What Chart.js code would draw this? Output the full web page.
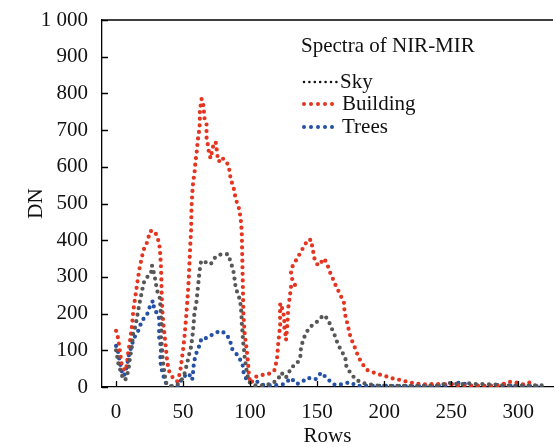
<!DOCTYPE html>
<html>
<head>
<meta charset="utf-8">
<script src="https://cdn.jsdelivr.net/npm/chart.js@4/dist/chart.umd.min.js"></script>
<style>
  html, body { margin: 0; padding: 0; background: #fff; }
  #wrap { width: 555px; height: 447px; }
</style>
</head>
<body>
<div id="wrap"><canvas id="chart"></canvas></div>
<script>
// values (rows -> DN)
const skyRows = [0,1,1.7,3.5,5.5,7.5,9.2,10,11,12,12.5,14.3,15.5,16.7,18,19.3,20.5,23,26,26.8,28,29.3,30.5,32.5,33,33.5,34,33.5,34,34.5,34.8,35.8,36.5,37.5,40,44,47,50.5,53,54.2,56,56.8,57.5,58,58.5,59.8,60.5,61.3,61.7,62.5,63.5,65.5,66.8,70.5,74.3,78.5,83.5,85.5,87.5,88.5,89.3,91.7,93,93.5,93.8,94.3,94.8,95.5,96,96.8,97.5,98.5,100,105,110.5,115.5,120.5,123.5,126,128,130.5,135,137.5,138,139.8,141.8,145,150,154.8,158,160.5,163,165.5,168,171,171.8,175,179.3,185,195,210,225,240,250.5,256,262.5,269,275,282,290,300,308,315.5,322];
const skyDN = [100,80,64,42,19,22,46,69,93,114,142,164,187,212,237,260,283,299,308,331,314,292,264,244,223,192,164,137,117,96,74,46,28,10,3,2,10,28,64,84,110,133,155,178,205,226,251,278,296,321,344,341,340,334,355,362,362,341,317,292,269,246,223,201,173,151,123,101,78,60,42,24,10,3,5,8,19,39,25,30,53,63,84,108,130,148,164,178,196,185,163,142,117,99,81,57,37,19,10,4,3,3,4,12,6,10,8,8,7,4,4,3,5,3];

const buildingRows = [0,1.5,2.2,3.5,4.3,6.7,8,9,10.5,11.8,12.8,14.3,15.8,17.3,19.3,21,23,25.5,28.5,30.8,32.3,33,33.5,33.8,34,34.5,35.5,36.8,38,39.2,41.8,45.5,47,48,49,50.3,51.5,52.5,53.5,54.2,55.3,56,56.3,57.2,57.7,58.5,59.3,60,61,61.7,62.3,62.5,62.5,63,63.8,65,65.5,66,67.5,67.5,67.5,68.5,69.2,70.5,72.5,74.3,75,75.5,76.7,78.5,82.5,84.3,85,86,87.3,88.5,89.3,91.3,92.3,93,93.5,93.8,94,94.5,95,95.9,97.5,98.5,99.2,100.5,104.3,109.3,113.5,118,120,120.5,121,121.7,122.5,122.3,122.5,123.5,124.3,125.5,125.5,126.3,126.8,127.5,128,128.5,129.3,130,130.5,132.5,133.5,131.5,130.5,131.5,133,135.8,138.3,140.8,143.3,145.8,146.3,147.5,148.3,150.8,152.5,155,157.5,158.8,161.3,163.3,166.8,170,170.5,171.8,173,174.2,175.5,177.5,179.3,181,183.5,187.5,192.5,197.5,202.5,207.5,212.5,217.5,222.5,228,234,240.5,243.5,248.5,253.5,259,264,269,275,280.5,285.5,293.5,298.5,303.8,308.5];
const buildingDN = [153,133,115,80,58,44,58,93,128,164,205,245,283,319,355,378,393,425,425,410,387,360,328,292,256,210,164,120,74,46,28,15,30,46,74,110,155,201,251,292,382,428,491,546,564,582,617,635,673,691,709,728,748,764,785,771,753,732,717,698,680,659,641,623,657,668,650,632,614,626,614,596,578,560,550,528,511,493,475,457,437,419,382,292,201,147,100,65,28,10,28,33,35,44,74,96,119,142,173,196,228,223,205,192,164,146,128,155,183,217,237,257,273,269,278,292,311,328,337,355,371,387,402,400,382,361,344,331,337,350,337,319,299,281,255,230,203,184,166,146,130,114,96,81,64,46,39,33,28,22,19,14,10,7,8,8,8,8,5,4,4,3,3,4,4,14,12,7,12];

const treesRows = [0,1,1.7,3,4.3,6,8,9.8,11.5,12.8,14,16.8,19.3,23,25,27.5,28.5,31.8,32.5,31.8,33,33.5,33,33.5,35.5,37.5,40,46,50,51.8,54.2,56.8,57.5,58,59.3,61.7,63.8,67.5,72.5,77.5,81.8,85,86.3,90.5,94.3,95,96,99.2,106,110,120,125.5,130.5,134.8,138,143,148.8,153,157.3,161.8,164.3,169.3,174.3,180,200,220,236,246,257,265,280,288,295,300.5,305,315];
const treesDN = [112,108,90,65,42,30,55,92,110,128,137,155,181,196,217,235,210,196,164,142,119,101,78,55,28,8,2,2,28,31,37,19,42,64,87,108,133,133,144,153,146,128,105,87,64,42,28,14,14,5,5,8,24,8,12,25,21,39,24,8,5,8,13,3,3,2,3,5,12,4,3,7,3,7,3,2];

const xTicks = [0, 50, 100, 150, 200, 250, 300];
const yTicks = [0, 100, 200, 300, 400, 500, 600, 700, 800, 900, 1000];

const legendTitle = 'Spectra of NIR-MIR';
const serif = "'Times New Roman', 'Liberation Serif', serif";

function toPoints(rows, vals) {
    return rows.map((r, i) => ({ x: r, y: vals[i] }));
}

function dotted(label, color, rows, vals, legendColor) {
    return {
        label: label,
        data: toPoints(rows, vals),
        borderColor: color,
        legendColor: legendColor || color,
        borderWidth: 4.2,
        borderDash: [0, 6.6],
        borderCapStyle: 'round',
        pointRadius: 0,
        tension: 0,
        fill: false
    };
}

// inner tick marks + top frame line
const frame = {
    id: 'frame',
    afterDraw(chart) {
        const { ctx, chartArea } = chart;
        const xs = chart.scales.x, ys = chart.scales.y;
        ctx.save();
        ctx.strokeStyle = '#000';
        ctx.lineWidth = 1.3;
        ctx.beginPath();
        ctx.moveTo(chartArea.left, chartArea.top);
        ctx.lineTo(chartArea.right, chartArea.top);
        xTicks.forEach(v => {
            const px = Math.round(xs.getPixelForValue(v)) + 0.5;
            ctx.moveTo(px, chartArea.bottom);
            ctx.lineTo(px, chartArea.bottom - 6);
        });
        yTicks.forEach(v => {
            const py = Math.round(ys.getPixelForValue(v)) + 0.5;
            ctx.moveTo(chartArea.left, py);
            ctx.lineTo(chartArea.left + 6, py);
        });
        ctx.stroke();
        ctx.restore();
    }
};

// legend drawn inside the plot
const innerLegend = {
    id: 'innerLegend',
    afterDatasetsDraw(chart) {
        const ctx = chart.ctx;
        ctx.save();
        ctx.font = '21px ' + serif;
        ctx.fillStyle = '#111';
        ctx.textBaseline = 'middle';
        ctx.textAlign = 'left';
        ctx.fillText(legendTitle, 301, 46);
        const rowsY = [82, 104, 127];
        chart.data.datasets.forEach((ds, i) => {
            const y = rowsY[i];
            ctx.strokeStyle = ds.legendColor;
            ctx.lineCap = 'round';
            if (i === 0) {
                ctx.lineWidth = 2.6;
                ctx.setLineDash([0, 5.4]);
            } else {
                ctx.lineWidth = 4;
                ctx.setLineDash([0, 7]);
            }
            ctx.beginPath();
            ctx.moveTo(304, y);
            ctx.lineTo(337, y);
            ctx.stroke();
            ctx.setLineDash([]);
            ctx.fillStyle = '#111';
            ctx.fillText(ds.label, i === 0 ? 340 : 342, y);
        });
        ctx.restore();
    }
};

new Chart(document.getElementById('chart'), {
    type: 'line',
    data: {
        datasets: [
            dotted('Sky', '#575757', skyRows, skyDN, '#111'),
            dotted('Building', '#e5341f', buildingRows, buildingDN),
            dotted('Trees', '#2450a5', treesRows, treesDN)
        ]
    },
    options: {
        responsive: true,
        maintainAspectRatio: false,
        animation: false,
        layout: { padding: { top: 20, right: 2, left: 0, bottom: 0 } },
        plugins: {
            legend: { display: false },
            tooltip: { enabled: false }
        },
        scales: {
            x: {
                type: 'linear',
                min: -10.5,
                max: 326,
                afterBuildTicks: (scale) => { scale.ticks = xTicks.map(v => ({ value: v })); },
                afterFit: (scale) => {
                    scale.height = 60;
                    scale.paddingLeft = 0;
                    scale.paddingRight = 0;
                },
                grid: { display: false, drawTicks: false },
                border: { display: true, color: '#000', width: 1.3 },
                ticks: {
                    color: '#111',
                    padding: 13,
                    maxRotation: 0,
                    font: { family: serif, size: 21 }
                },
                title: {
                    display: true,
                    text: 'Rows',
                    color: '#111',
                    padding: { top: 0, bottom: 0 },
                    font: { family: serif, size: 21, lineHeight: 1 }
                }
            },
            y: {
                min: 0,
                max: 1000,
                afterBuildTicks: (scale) => { scale.ticks = yTicks.map(v => ({ value: v })); },
                afterFit: (scale) => {
                    scale.width = 102;
                    scale.paddingTop = 0;
                    scale.paddingBottom = 0;
                },
                grid: { display: false, drawTicks: false },
                border: { display: true, color: '#000', width: 1.3 },
                ticks: {
                    color: '#111',
                    padding: 14,
                    font: { family: serif, size: 21 },
                    callback: (v) => v === 1000 ? '1 000' : String(v)
                },
                title: {
                    display: true,
                    text: 'DN',
                    color: '#111',
                    padding: { top: 26, bottom: 0 },
                    font: { family: serif, size: 21, lineHeight: 1 }
                }
            }
        }
    },
    plugins: [frame, innerLegend]
});
</script>
</body>
</html>
